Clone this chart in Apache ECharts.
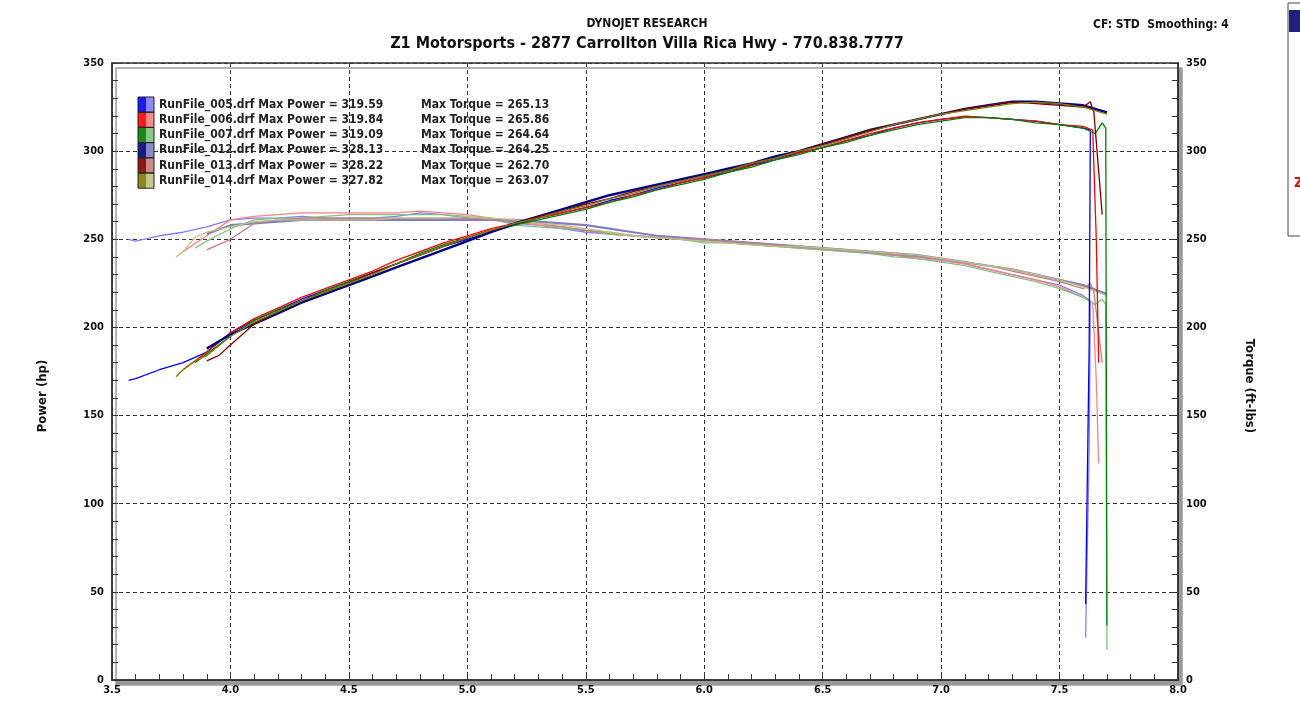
<!DOCTYPE html>
<html><head><meta charset="utf-8">
<script src="https://cdn.jsdelivr.net/npm/echarts@6/dist/echarts.min.js"></script>
<style>html,body{margin:0;padding:0;background:#fff}#c{width:1300px;height:712px}</style>
</head><body><div id="c"></div>
<script>
// ---------- DATA ----------
const runNames = ['RunFile_005.drf','RunFile_006.drf','RunFile_007.drf','RunFile_012.drf','RunFile_013.drf','RunFile_014.drf'];
const maxPower = ['319.59','319.84','319.09','328.13','328.22','327.82'];
const maxTorque = ['265.13','265.86','264.64','264.25','262.70','263.07'];
const xTicks = [3.5,4.0,4.5,5.0,5.5,6.0,6.5,7.0,7.5,8.0];
const yTicks = [0,50,100,150,200,250,300,350];

const rpmGrid = [4.0,4.1,4.2,4.3,4.4,4.5,4.6,4.7,4.8,4.9,5.0,5.1,5.2,5.3,5.4,5.5,5.6,5.7,5.8,5.9,6.0,6.1,6.2,6.3,6.4,6.5,6.6,6.7,6.8,6.9,7.0,7.1,7.2,7.3,7.4,7.5,7.6];

const rpm005 = [3.57,3.6,3.7,3.8,3.9].concat(rpmGrid,[7.63,7.625,7.61]);
const power005 = [170,171,176,180,186, 197,204,210,216,221,226,231,236,241,246, 250,254,258,262,265,268,272,275,279,282, 285,288,292,295,299,302,306,309,313,316, 318,319.6,319,318,317,315,313, 312,190,43];
const torque005 = [250,249,252,254,257, 261,262,262,263,262,262,262,263,265,264, 262,261,259,258,256,254,253,252,251,250, 249,248,247,246,246,245,244,242,241,240, 238,236,233,230,227,224,218, 215,130,24];

const rpm006 = [3.8,3.9].concat(rpmGrid,[7.64,7.655,7.665]);
const power006 = [176,186, 197,205,211,217,222,227,232,238,243,248, 252,256,259,262,265,268,271,275,278,282, 285,289,292,296,299,302,306,310,313,316, 318,319.8,319,318,317,315,314, 312,250,180];
const torque006 = [243,252, 261,263,264,265,265,265,265,265,266,265, 264,262,260,258,257,255,253,252,251,250, 249,248,247,246,245,244,243,242,241,239, 238,236,233,230,227,223,217, 214,170,123];

const rpm007 = [3.85,3.9].concat(rpmGrid,[7.65,7.68,7.695,7.70]);
const power007 = [180,185, 195,204,210,215,221,226,231,236,242,247, 251,255,258,261,264,267,271,274,278,281, 284,288,291,295,298,302,305,309,312,315, 317,319,319,318,316,315,313, 310,316,313,31];
const torque007 = [245,249, 256,261,262,262,263,264,264,264,264,264, 263,262,258,257,256,255,253,252,251,250, 248,248,247,246,245,244,243,242,240,239, 237,235,232,229,226,222,217, 213,216,213,17];

const rpm012 = [3.9].concat(rpmGrid,[7.7]);
const power012 = [188, 196,202,208,214,219,224,229,234,239,244, 249,254,259,263,267,271,275,278,281,284, 287,290,293,297,300,304,308,312,315,318, 321,324,326,328,328,327,326, 322];
const torque012 = [253, 258,259,260,261,261,261,261,261,261,261, 261,261,261,260,259,258,256,254,252,251, 250,249,248,247,246,245,244,243,242,241, 239,237,235,233,230,227,224, 219];

const rpm013 = [3.9,3.95].concat(rpmGrid,[7.63,7.645,7.68]);
const power013 = [181,184, 190,202,209,215,220,225,231,236,241,246, 251,255,259,263,266,270,273,277,280,283, 286,289,293,296,300,304,308,312,315,318, 321,324,326,328,327,326,325, 328,322,264];
const torque013 = [244,247, 250,259,261,262,262,262,262,262,262,262, 262,261,260,259,257,255,254,252,251,250, 250,249,248,247,246,245,244,243,241,240, 239,237,235,232,229,226,222, 225,220,180];

const rpm014 = [3.77,3.8,3.85,3.9].concat(rpmGrid,[7.7]);
const power014 = [172,176,181,184, 195,203,209,215,220,225,230,236,241,246, 251,255,259,262,266,269,273,276,280,283, 286,289,293,296,300,303,307,311,315,318, 321,323,325,327,327.8,327,325, 321];
const torque014 = [240,243,251,254, 257,260,261,261,261,261,261,262,262,262, 263,262,261,259,258,256,254,252,251,250, 249,248,247,246,246,245,244,243,242,241, 239,237,235,233,230,227,223, 218];

const runs = [
  {rpm: rpm005, power: power005, torque: torque005},
  {rpm: rpm006, power: power006, torque: torque006},
  {rpm: rpm007, power: power007, torque: torque007},
  {rpm: rpm012, power: power012, torque: torque012},
  {rpm: rpm013, power: power013, torque: torque013},
  {rpm: rpm014, power: power014, torque: torque014}
];

// ---------- STYLE ----------
const darkColors = ['#0000ff','#ff0000','#008000','#000080','#800000','#808000'];
const lightColors = ['#8080ff','#ff8080','#80c080','#8080c0','#c08080','#c0c080'];
const swDark = ['#1a1aff','#ff1a1a','#1a8a1a','#1a1a8a','#8a1a1a','#8a8a1a'];
const swLight = ['#8a8aff','#ff8a8a','#8ac88a','#8a8ac8','#c88a8a','#c8c88a'];
const powerWidth = [1.3,1.3,1.3,2.4,1.3,1.3];
const torqueWidth = [1.3,1.3,1.3,2.2,1.3,1.3];
const FONT = "'DejaVu Sans Condensed','DejaVu Sans',sans-serif";

const series = [];
runs.forEach((r,i)=>{
  series.push({type:'line', name: runNames[i]+' power', xAxisIndex:0, yAxisIndex:0, showSymbol:false, animation:false,
    data: r.rpm.map((x,k)=>[x, r.power[k]]), lineStyle:{color:darkColors[i], width:powerWidth[i]}, z: 3});
  series.push({type:'line', name: runNames[i]+' torque', xAxisIndex:0, yAxisIndex:1, showSymbol:false, animation:false,
    data: r.rpm.map((x,k)=>[x, r.torque[k]]), lineStyle:{color:lightColors[i], width:torqueWidth[i]}, z: 2});
});

const graphic = [];
// titles
graphic.push({type:'text', x:647, y:24, style:{text:'DYNOJET RESEARCH', font:'bold 12px '+FONT, fill:'#111', align:'center', verticalAlign:'middle'}});
graphic.push({type:'text', x:647, y:44, style:{text:'Z1 Motorsports - 2877 Carrollton Villa Rica Hwy - 770.838.7777', font:'bold 16px '+FONT, fill:'#111', align:'center', verticalAlign:'middle'}});
graphic.push({type:'text', x:1093, y:25, style:{text:'CF: STD  Smoothing: 4', font:'bold 12px '+FONT, fill:'#111', align:'left', verticalAlign:'middle'}});
// axis names
graphic.push({type:'text', x:43, y:396, rotation:Math.PI/2, style:{text:'Power (hp)', font:'bold 13px '+FONT, fill:'#111', align:'center', verticalAlign:'middle'}});
graphic.push({type:'text', x:1249, y:386, rotation:-Math.PI/2, style:{text:'Torque (ft-lbs)', font:'bold 13px '+FONT, fill:'#111', align:'center', verticalAlign:'middle'}});
// legend
runNames.forEach((n,i)=>{
  const y0 = 97 + i*15.2;
  graphic.push({type:'rect', shape:{x:138, y:y0, width:8, height:15.2}, style:{fill:swDark[i], stroke:null}, z:10});
  graphic.push({type:'rect', shape:{x:146, y:y0, width:8, height:15.2}, style:{fill:swLight[i], stroke:null}, z:10});
  graphic.push({type:'rect', shape:{x:138, y:y0, width:16, height:15.2}, style:{fill:null, stroke:'#222', lineWidth:1}, z:11});
  graphic.push({type:'text', x:159, y:y0+7.6, style:{text:n+' Max Power = '+maxPower[i], font:'bold 12px '+FONT, fill:'#222', align:'left', verticalAlign:'middle'}, z:10});
  graphic.push({type:'text', x:421, y:y0+7.6, style:{text:'Max Torque = '+maxTorque[i], font:'bold 12px '+FONT, fill:'#222', align:'left', verticalAlign:'middle'}, z:10});
});
// partial window at right edge
graphic.push({type:'rect', shape:{x:1288, y:3, width:20, height:233}, style:{fill:'#fff', stroke:'#444', lineWidth:1}});
graphic.push({type:'rect', shape:{x:1289, y:10, width:12, height:22}, style:{fill:'#22207a'}});
graphic.push({type:'text', x:1294, y:183, style:{text:'Z', font:'bold 14px '+FONT, fill:'#d01010', align:'left', verticalAlign:'middle'}});

const axLabel = {fontFamily:FONT, fontWeight:'bold', fontSize:11, color:'#111'};
const option = {
  backgroundColor:'#fff',
  animation:false,
  grid:{left:112, right:122, top:63, bottom:32, show:true, backgroundColor:'#fff', borderColor:'#333', borderWidth:1.5,
        shadowColor:'#9a9a9a', shadowOffsetX:4, shadowOffsetY:5, shadowBlur:0},
  xAxis:{type:'value', min:xTicks[0], max:xTicks[xTicks.length-1], interval:0.5,
    axisLine:{show:true, lineStyle:{color:'#333', width:1.5}},
    axisTick:{show:true, inside:true, length:6, lineStyle:{color:'#333'}},
    minorTick:{show:true, splitNumber:5, length:6, lineStyle:{color:'#333'}},
    axisLabel:Object.assign({margin:5, formatter:v=>v.toFixed(1)}, axLabel),
    splitLine:{show:true, lineStyle:{color:'#333', type:[4,3], width:1}}},
  yAxis:[
    {type:'value', min:yTicks[0], max:yTicks[yTicks.length-1], interval:50, position:'left',
     axisLine:{show:true, lineStyle:{color:'#333', width:1.5}},
     axisTick:{show:true, inside:true, length:6, lineStyle:{color:'#333'}},
     minorTick:{show:true, splitNumber:5, length:6, lineStyle:{color:'#333'}},
     axisLabel:Object.assign({margin:8}, axLabel),
     splitLine:{show:true, lineStyle:{color:'#333', type:[4,3], width:1}}},
    {type:'value', min:yTicks[0], max:yTicks[yTicks.length-1], interval:50, position:'right',
     axisLine:{show:true, lineStyle:{color:'#333', width:1.5}},
     axisTick:{show:true, inside:true, length:6, lineStyle:{color:'#333'}},
     minorTick:{show:true, splitNumber:5, length:6, lineStyle:{color:'#333'}},
     axisLabel:Object.assign({margin:8}, axLabel),
     splitLine:{show:false}}
  ],
  series: series,
  graphic: graphic
};
const chart = echarts.init(document.getElementById('c'), null, {renderer:'canvas'});
chart.setOption(option);
</script></body></html>
